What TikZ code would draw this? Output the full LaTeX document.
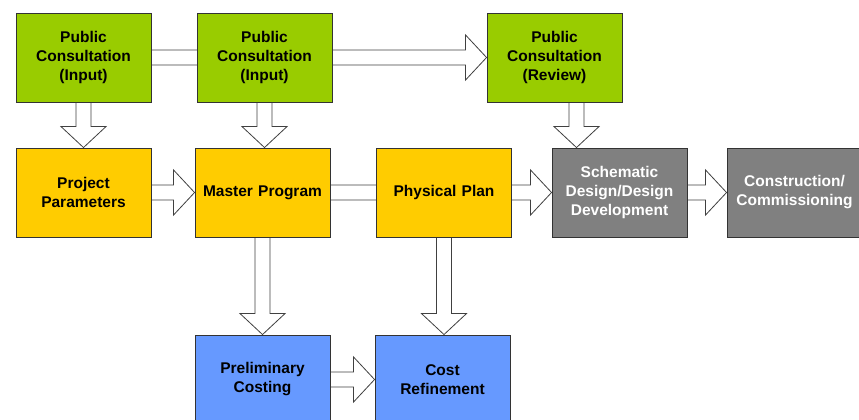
\documentclass[tikz,border=0pt]{standalone}
\usepackage{fontspec}
\setmainfont{Liberation Sans}
\usetikzlibrary{calc,backgrounds}
\definecolor{ConsultClr}{rgb}{0.6,0.8,0}
\definecolor{PlanClr}{rgb}{1,0.8,0}
\definecolor{CostClr}{rgb}{0.4,0.6,1}
\definecolor{DesignClr}{rgb}{0.5,0.5,0.5}

% hollow block arrows, from #1 to the tip #2
\newcommand{\harrow}[2]{%
  \draw[blockarrow] let \p1=(#1), \p2=(#2) in
    (\x1,\y1+7.5pt) -- (\x2-21pt,\y1+7.5pt) -- (\x2-21pt,\y1+22.5pt) -- (\x2,\y1)
    -- (\x2-21pt,\y1-22.5pt) -- (\x2-21pt,\y1-7.5pt) -- (\x1,\y1-7.5pt) -- cycle;}
\newcommand{\varrow}[2]{%
  \draw[blockarrow] let \p1=(#1), \p2=(#2) in
    (\x1-7.5pt,\y1) -- (\x1-7.5pt,\y2+21pt) -- (\x1-22.5pt,\y2+21pt) -- (\x1,\y2)
    -- (\x1+22.5pt,\y2+21pt) -- (\x1+7.5pt,\y2+21pt) -- (\x1+7.5pt,\y1) -- cycle;}

\begin{document}
\begin{tikzpicture}[x=1pt,y=-1pt,
  box/.style={rectangle,draw=black!80,line width=0.9pt,minimum width=135pt,
    minimum height=89pt,text width=128pt,align=center,inner sep=0pt,
    font=\bfseries\fontsize{15.5}{19}\selectfont},
  consult/.style={box,fill=ConsultClr},
  plan/.style={box,fill=PlanClr},
  cost/.style={box,fill=CostClr},
  design/.style={box,fill=DesignClr,text=white},
  blockarrow/.style={draw=black!75,fill=white,line width=0.8pt,line join=miter}]
\useasboundingbox (0,0) rectangle (859,420);
\clip (0,0) rectangle (859,420);

\node[consult] (pc1) at (83.5,57.5) {Public\\Consultation\\(Input)};
\node[consult] (pc2) at (264.5,57.5) {Public\\Consultation\\(Input)};
\node[consult] (pc3) at (554.5,57.5) {Public\\Consultation\\(Review)};

\node[plan] (params) at (83.5,192.5) {Project\\Parameters};
\node[plan] (master) at (262.5,192.5) {Master Program};
\node[plan] (physical) at (444,192.5) {Physical Plan};
\node[design] (schem) at (619.5,192.5) {Schematic\\Design/Design\\Development};
\node[design] (constr) at (794.5,192.5) {Construction/\\Commissioning};

\node[cost] (prelim) at (262.5,379.5) {Preliminary\\Costing};
\node[cost] (costref) at (442.5,379.5) {Cost\\Refinement};

\begin{scope}[on background layer]
\harrow{pc1.east}{pc3.west}
\harrow{params.east}{master.west}
\harrow{master.east}{schem.west}
\harrow{schem.east}{constr.west}
\harrow{prelim.east}{costref.west}
\varrow{pc1.south}{params.north}
\varrow{pc2.south}{master.north}
\varrow{$(pc3.south)+(22,0)$}{schem.north}
\varrow{master.south}{prelim.north}
\varrow{physical.south}{costref.north}
\end{scope}

\end{tikzpicture}
\end{document}
